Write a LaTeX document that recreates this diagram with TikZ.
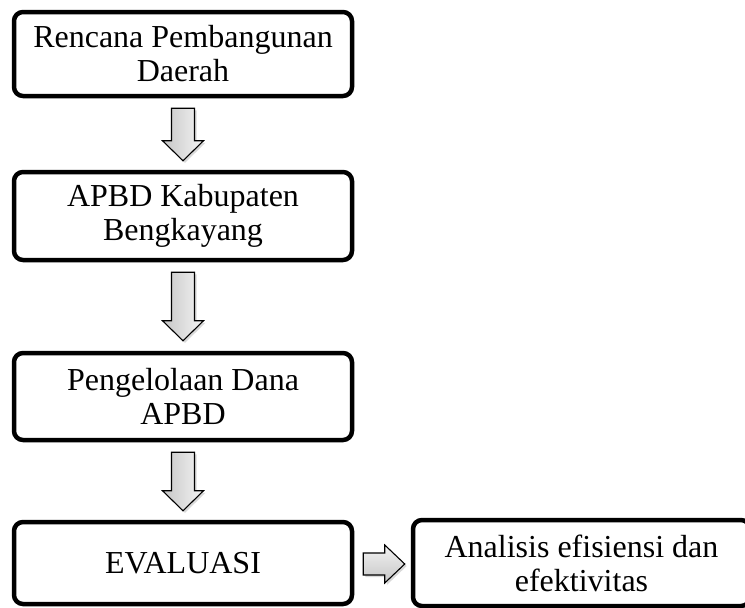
\documentclass[tikz,border=0pt]{standalone}
\usepackage{fontspec}
\setmainfont{Liberation Serif}
\usetikzlibrary{calc}
\tikzset{
  flowbox/.style={draw=black, line width=4.5pt, rounded corners=9pt, fill=white,
    inner sep=0pt, align=center, font=\fontsize{32}{34}\selectfont},
  blockarrow/.style={draw=black, line width=1.1pt, left color=gray!45, right color=gray!8},
  blockarrowh/.style={draw=black, line width=1.1pt, top color=gray!10, bottom color=gray!45},
  arrowshadow/.style={fill=black!15, draw=none}
}
\newcommand\blkdown[2]{%
  \path #1 coordinate (s) #2 coordinate (t);
  \fill[arrowshadow] ($(s)+(-9.5,2)$) -- ($(s)+(13.5,2)$) -- ($(t)+(13.5,-18)$) -- ($(t)+(22.5,-18)$) -- ($(t)+(2,2)$) -- ($(t)+(-18.5,-18)$) -- ($(t)+(-9.5,-18)$) -- cycle;
  \draw[blockarrow] ($(s)+(-11.5,0)$) -- ($(s)+(11.5,0)$) -- ($(t)+(11.5,-20)$) -- ($(t)+(20.5,-20)$) -- (t) -- ($(t)+(-20.5,-20)$) -- ($(t)+(-11.5,-20)$) -- cycle;
}
\begin{document}
\begin{tikzpicture}[x=1pt, y=-1pt]
\useasboundingbox (0,0) rectangle (745,608);
\node[flowbox, minimum width=338pt, minimum height=84pt] (b1) at (183,54) {Rencana Pembangunan\\Daerah};
\node[flowbox, minimum width=338pt, minimum height=88pt] (b2) at (183,216) {APBD Kabupaten\\Bengkayang};
\node[flowbox, minimum width=338pt, minimum height=87pt] (b3) at (183,396.5) {Pengelolaan Dana\\APBD};
\node[flowbox, minimum width=338pt, minimum height=82pt] (b4) at (183,563) {EVALUASI};
\node[flowbox, minimum width=337pt, minimum height=86pt] (b5) at (581.5,563) {Analisis efisiensi dan\\efektivitas};
\blkdown{($(b1.south)+(0,10)$)}{($(b2.north)+(0,-9)$)}
\blkdown{($(b2.south)+(0,10)$)}{($(b3.north)+(0,-10)$)}
\blkdown{($(b3.south)+(0,10)$)}{($(b4.north)+(0,-9)$)}
% horizontal arrow
\path ($(b4.east)+(9,1)$) coordinate (hs) ($(b5.west)+(-6,1)$) coordinate (ht);
\fill[arrowshadow] ($(hs)+(2,-9)$) -- ($(ht)+(-18,-9)$) -- ($(ht)+(-18,-17)$) -- ($(ht)+(2,2)$) -- ($(ht)+(-18,21)$) -- ($(ht)+(-18,13)$) -- ($(hs)+(2,13)$) -- cycle;
\draw[blockarrowh] ($(hs)+(0,-11)$) -- ($(ht)+(-20,-11)$) -- ($(ht)+(-20,-19)$) -- (ht) -- ($(ht)+(-20,19)$) -- ($(ht)+(-20,11)$) -- ($(hs)+(0,11)$) -- cycle;
\end{tikzpicture}
\end{document}
